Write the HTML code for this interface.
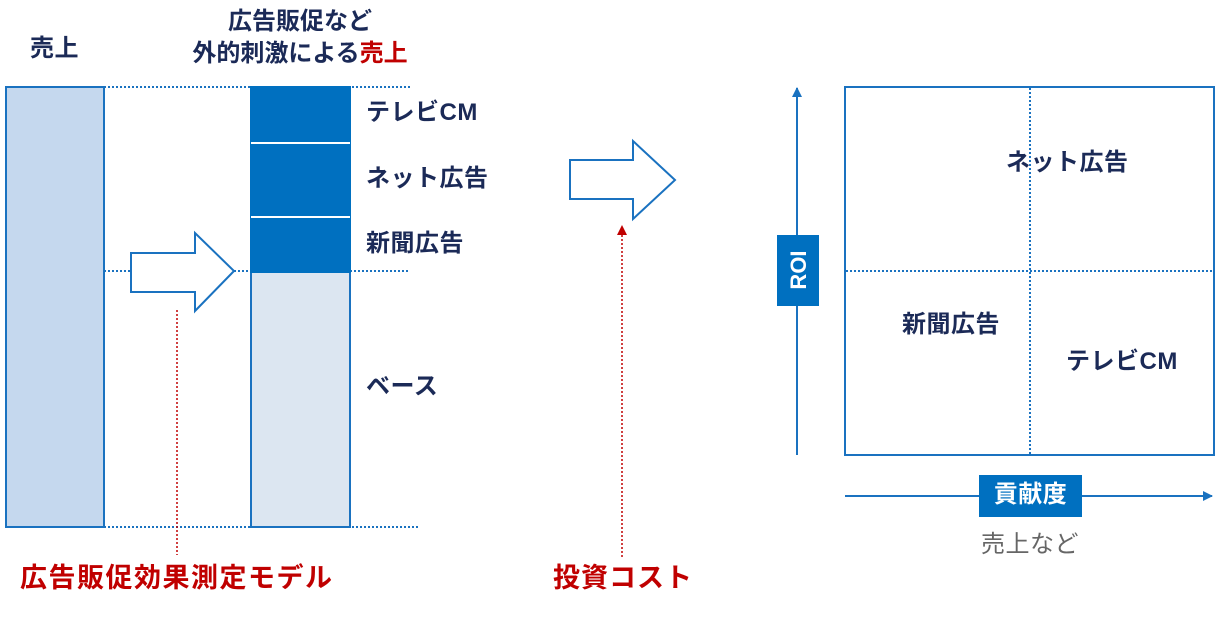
<!DOCTYPE html>
<html><head><meta charset="utf-8"><style>
body{margin:0;background:#fff;width:1226px;height:617px;overflow:hidden;font-family:"Liberation Sans","Noto Sans CJK JP",sans-serif}
svg{position:absolute;left:0;top:0}
.t{position:absolute;font-weight:bold;color:#1b2a57;font-size:24px;white-space:nowrap;line-height:1;letter-spacing:0.5px}
</style></head><body>
<svg width="1226" height="617">
<defs><marker id="b" markerWidth="10" markerHeight="10" refX="9" refY="5" orient="auto" markerUnits="userSpaceOnUse"><path d="M0,0L10,5L0,10z" fill="#1a72c0"/></marker>
<marker id="r" markerWidth="10" markerHeight="10" refX="9" refY="5" orient="auto" markerUnits="userSpaceOnUse"><path d="M0,0L10,5L0,10z" fill="#c00000"/></marker></defs>
<g stroke="#1a72c0" stroke-width="2" stroke-dasharray="2,2" fill="none">
<line x1="104" y1="87" x2="410" y2="87"/>
<line x1="104" y1="271" x2="131" y2="271"/><line x1="234" y1="271" x2="251" y2="271"/><line x1="350" y1="271" x2="410" y2="271"/>
<line x1="104" y1="527" x2="420" y2="527"/>
<line x1="1030" y1="88" x2="1030" y2="454"/><line x1="846" y1="271" x2="1213" y2="271"/>
</g>
<rect x="6" y="87" width="98" height="440" fill="#c5d8ee" stroke="#1a72c0" stroke-width="2"/>
<rect x="251" y="87" width="99" height="440" fill="#dce6f1" stroke="#1a72c0" stroke-width="2"/>
<rect x="251" y="87" width="99" height="185" fill="#0070c0" stroke="#0070c0" stroke-width="2"/>
<line x1="251" y1="143" x2="350" y2="143" stroke="#fff" stroke-width="2"/>
<line x1="251" y1="217" x2="350" y2="217" stroke="#fff" stroke-width="2"/>
<path d="M131,253H195V233L234,271L195,311V292H131z" fill="#fff" stroke="#1a72c0" stroke-width="2"/>
<path d="M570,160H633V141L675,180L633,219V199H570z" fill="#fff" stroke="#1a72c0" stroke-width="2"/>
<line x1="177" y1="310" x2="177" y2="555" stroke="#c00000" stroke-width="1.5" stroke-dasharray="2,2"/>
<line x1="622" y1="557" x2="622" y2="226" stroke="#c00000" stroke-width="1.5" stroke-dasharray="2,2" marker-end="url(#r)"/>
<line x1="797" y1="455" x2="797" y2="88" stroke="#1a72c0" stroke-width="2" marker-end="url(#b)"/>
<rect x="777" y="235" width="42" height="71" fill="#0070c0"/>
<text x="806" y="270" transform="rotate(-90 806 270)" text-anchor="middle" fill="#fff" font-weight="bold" font-size="22" font-family="Liberation Sans">ROI</text>
<rect x="845" y="87" width="369" height="368" fill="none" stroke="#1a72c0" stroke-width="2"/>
<line x1="845" y1="496" x2="1212" y2="496" stroke="#1a72c0" stroke-width="2" marker-end="url(#b)"/>
<rect x="979" y="475" width="103" height="42" fill="#0070c0"/>
</svg>
<div class="t" style="left:30px;top:37px">売上</div>
<div class="t" style="left:180px;top:6px;width:240px;text-align:center;line-height:32px;letter-spacing:0">広告販促など<br>外的刺激による<span style="color:#c00000">売上</span></div>
<div class="t" style="left:366px;top:101px">テレビCM</div>
<div class="t" style="left:366px;top:167px">ネット広告</div>
<div class="t" style="left:366px;top:232px">新聞広告</div>
<div class="t" style="left:366px;top:375px">ベース</div>
<div class="t" style="left:20px;top:565px;color:#c00000;font-size:27px;letter-spacing:1.5px">広告販促効果測定モデル</div>
<div class="t" style="left:553px;top:565px;color:#c00000;font-size:27px;letter-spacing:1px">投資コスト</div>
<div class="t" style="left:1006px;top:151px">ネット広告</div>
<div class="t" style="left:902px;top:313px">新聞広告</div>
<div class="t" style="left:1066px;top:350px">テレビCM</div>
<div class="t" style="left:979px;top:483px;width:103px;text-align:center;color:#fff">貢献度</div>
<div class="t" style="left:975px;top:533px;width:110px;text-align:center;color:#666;font-weight:normal">売上など</div>
</body></html>
